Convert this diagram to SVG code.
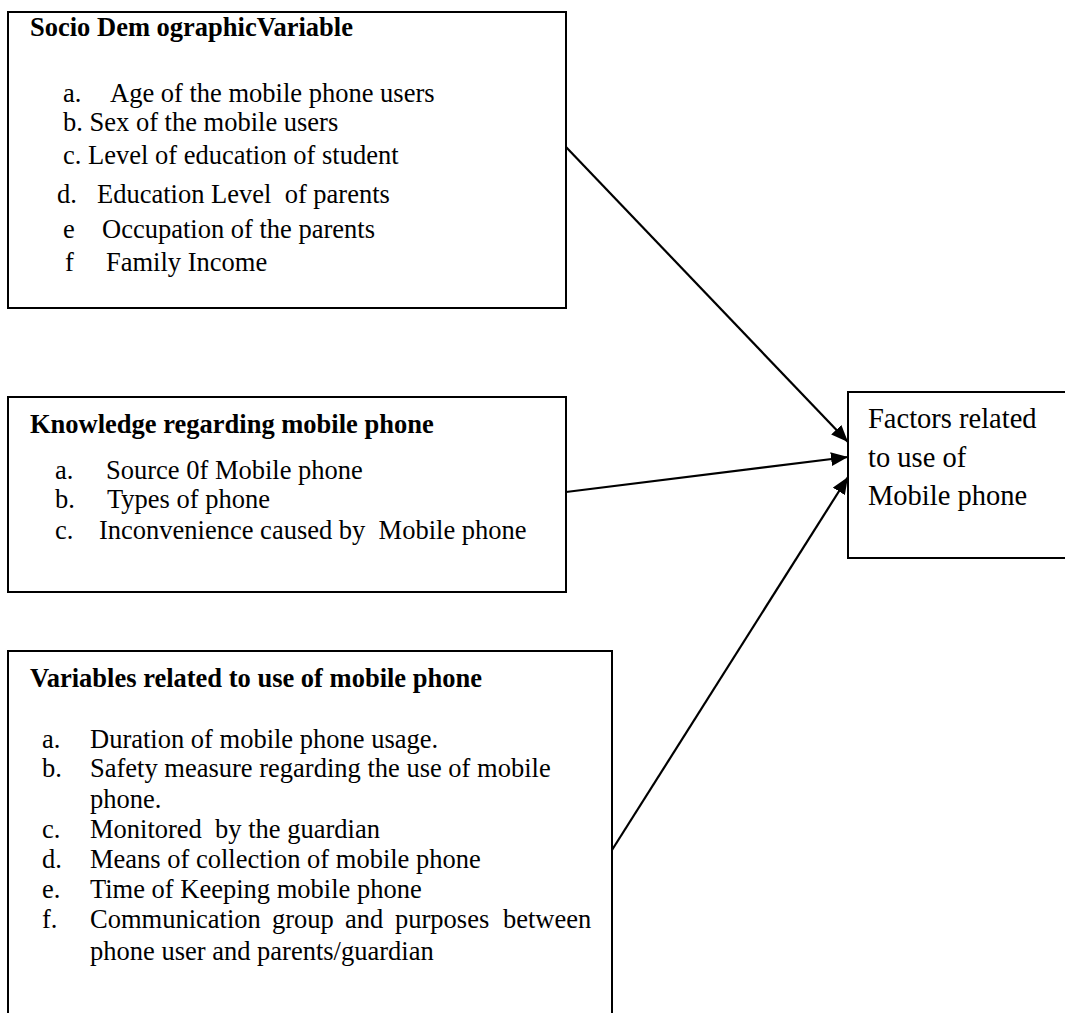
<svg xmlns="http://www.w3.org/2000/svg" width="1065" height="1013" viewBox="0 0 1065 1013" xml:space="preserve">
<style>
text{font-family:"Liberation Serif","Times New Roman",serif;font-size:26.5px;fill:#000;white-space:pre}
.t{font-weight:bold}
.f{font-size:28.5px}
.box{fill:#fff;stroke:#000;stroke-width:2}
.con{stroke:#000;stroke-width:2.2;fill:none;marker-end:url(#ah)}
</style>
<defs>
<marker id="ah" markerUnits="userSpaceOnUse" markerWidth="18" markerHeight="14" refX="17" refY="7" orient="auto">
<path d="M0,0 L17,7 L0,14 z" fill="#000"/>
</marker>
</defs>
<rect width="1065" height="1013" fill="#fff"/>
<g id="socio">
<rect class="box" x="8" y="12" width="558" height="296"/>
<text class="t" x="30" y="36">Socio Dem ographicVariable</text>
<text x="63" y="102">a.</text><text x="110" y="102">Age of the mobile phone users</text>
<text x="63" y="131">b. Sex of the mobile users</text>
<text x="63" y="164">c. Level of education of student</text>
<text x="57" y="203">d.</text><text x="97" y="203">Education Level  of parents</text>
<text x="63" y="238">e</text><text x="102" y="238">Occupation of the parents</text>
<text x="65" y="271">f</text><text x="106" y="271">Family Income</text>
</g>
<g id="knowledge">
<rect class="box" x="8" y="397" width="558" height="195"/>
<text class="t" x="30" y="433">Knowledge regarding mobile phone</text>
<text x="55" y="479">a.</text><text x="106" y="479">Source 0f Mobile phone</text>
<text x="55" y="508">b.</text><text x="107" y="508">Types of phone</text>
<text x="55" y="539">c.</text><text x="99" y="539">Inconvenience caused by  Mobile phone</text>
</g>
<g id="variables">
<rect class="box" x="8" y="651" width="604" height="420"/>
<text class="t" x="30" y="687">Variables related to use of mobile phone</text>
<text x="42" y="748">a.</text><text x="90" y="748">Duration of mobile phone usage.</text>
<text x="42" y="777">b.</text><text x="90" y="777">Safety measure regarding the use of mobile</text>
<text x="90" y="808">phone.</text>
<text x="42" y="838">c.</text><text x="90" y="838">Monitored  by the guardian</text>
<text x="42" y="868">d.</text><text x="90" y="868">Means of collection of mobile phone</text>
<text x="42" y="898">e.</text><text x="90" y="898">Time of Keeping mobile phone</text>
<text x="42" y="928">f.</text><text y="928"><tspan x="90">Communication</tspan><tspan x="272">group</tspan><tspan x="345">and</tspan><tspan x="395">purposes</tspan><tspan x="503">between</tspan></text>
<text x="90" y="960">phone user and parents/guardian</text>
</g>
<g id="factors">
<rect class="box" x="848" y="392" width="240" height="166"/>
<text class="f" x="868" y="428">Factors related</text>
<text class="f" x="868" y="467">to use of</text>
<text class="f" x="868" y="505">Mobile phone</text>
</g>
<g id="connectors">
<line class="con" x1="566" y1="147" x2="848" y2="442"/>
<line class="con" x1="566" y1="492" x2="848" y2="457"/>
<line class="con" x1="612" y1="850" x2="848" y2="477"/>
</g>
</svg>
